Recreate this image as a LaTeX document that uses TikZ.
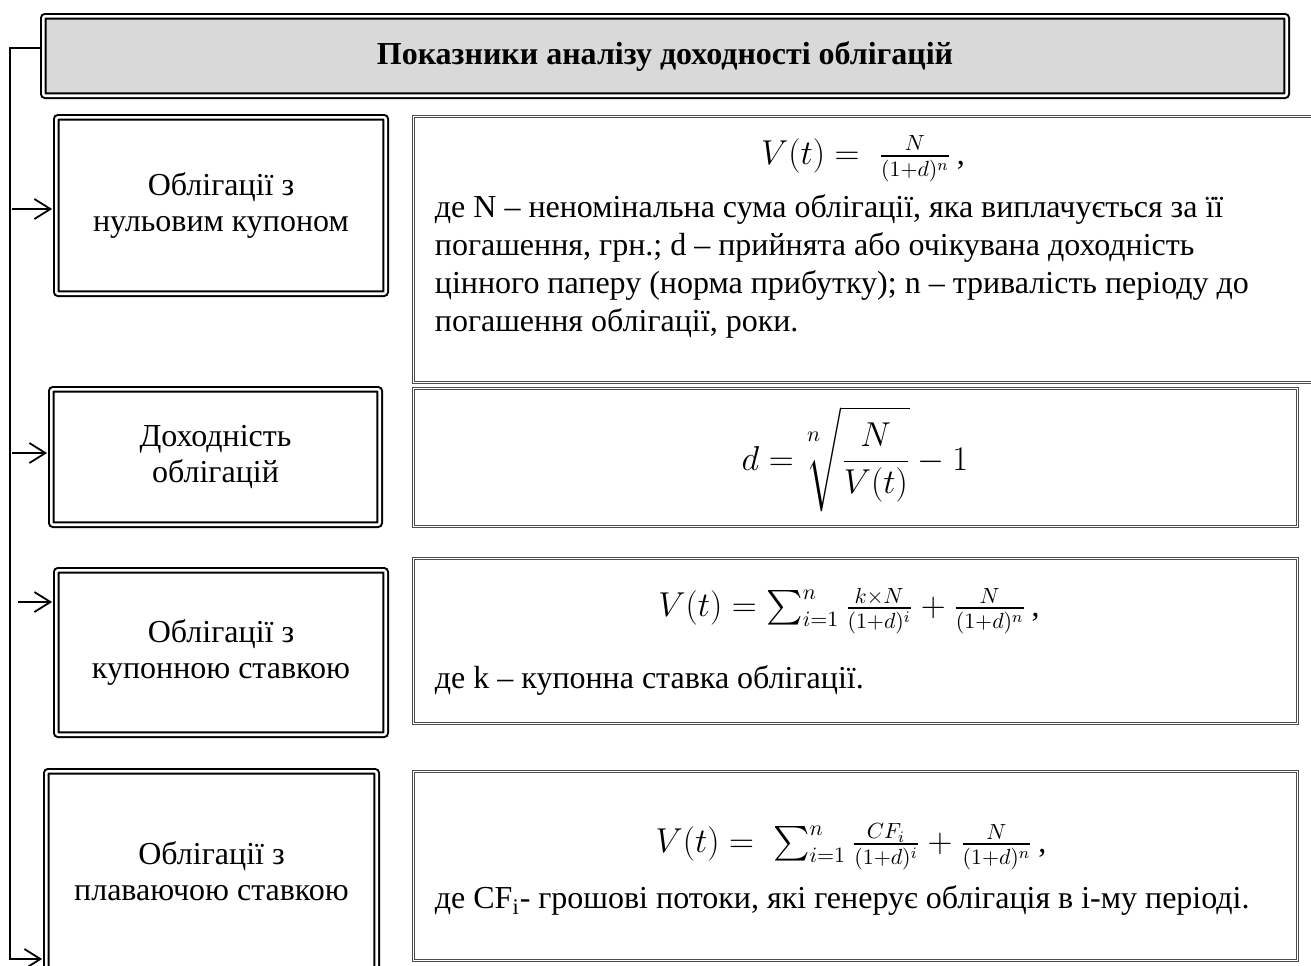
\documentclass[tikz,border=0pt]{standalone}
\usepackage{amsmath}
\usepackage{fontspec}
\setmainfont{Liberation Serif}
\usetikzlibrary{arrows.meta}

\tikzset{
  namebox/.style={shape=rectangle,draw=black,line width=1pt,double=white,double distance=1.3pt,rounded corners=1pt,align=center,font=\fontsize{16}{18}\selectfont},
  formbox/.style={shape=rectangle,draw=black!70,line width=0.5pt,double=white,double distance=0.6pt},
  formula/.style={inner sep=0pt,font=\fontsize{16}{19}\selectfont},
  note/.style={anchor=north west,align=left,inner sep=0pt,font=\fontsize{16}{19}\selectfont}
}

\begin{document}
\begin{tikzpicture}[x=0.5pt,y=-0.5pt,->,>={Straight Barb[length=8pt,width=10pt]},shorten >=1.6pt,line width=0.9pt]
            \useasboundingbox(0, 0) rectangle (1311, 965);
            \node[namebox,fill=black!15,minimum width=621.7pt,minimum height=39.7pt,font=\bfseries\fontsize{16}{18}\selectfont](Title)at(665, 56){Показники аналізу доходності облігацій};
            \node[namebox,minimum width=164.7pt,minimum height=88.2pt](0)at(221, 205.5){Облігації з\\нульовим купоном};
            \node[namebox,minimum width=164.2pt,minimum height=67.7pt](1)at(215.5, 457){Доходність\\облігацій};
            \node[namebox,minimum width=164.7pt,minimum height=82.2pt](2)at(221, 652.5){Облігації з\\купонною ставкою};
            \node[namebox,minimum width=165.2pt,minimum height=99.7pt](3)at(211.5, 871){Облігації з\\плаваючою ставкою};
            \node[formbox,minimum width=452.5pt,minimum height=133pt](V0)at(866, 249.5){};
            \node[formbox,minimum width=442pt,minimum height=69pt](V1)at(855.5, 457.5){};
            \node[formbox,minimum width=442pt,minimum height=82.5pt](V2)at(855.5, 641){};
            \node[formbox,minimum width=442pt,minimum height=94.5pt](V3)at(855.5, 866){};
            \node[formula](E0)at(863, 159){$V(t)=\;\frac{N}{(1+d)^{n}}\,$,};
            \node[formula](E1)at(855, 459){$\displaystyle d=\sqrt[\leftroot{3}\uproot{8}\scriptstyle n]{\frac{N}{V(t)}}-1$};
            \node[formula](E2)at(849, 611){$V(t)=\sum_{i=1}^{n}\frac{k\times N}{(1+d)^{i}}+\frac{N}{(1+d)^{n}}\,$,};
            \node[formula](E3)at(851, 847){$V(t)=\;\sum_{i=1}^{n}\frac{CF_{i}}{(1+d)^{i}}+\frac{N}{(1+d)^{n}}\,$,};
            \node[note](N0)at(434, 194){де N – неномінальна сума облігації, яка виплачується за її\\погашення, грн.; d – прийнята або очікувана доходність\\цінного паперу (норма прибутку); n – тривалість періоду до\\погашення облігації, роки.};
            \node[note](N2)at(434, 665){де k – купонна ставка облігації.};
            \node[note](N3)at(434, 885){де CF\textsubscript{i}- грошові потоки, які генерує облігація в і-му періоді.};
            % side line and arrows
            \coordinate(Top)at(10, 48);
            \coordinate(Bottom)at(10, 959);
            \coordinate(A0)at(12, 209);
            \coordinate(A1)at(12, 453);
            \coordinate(A2)at(18, 602);
            \draw(Title.west |- Top) -- (Top) -- (Bottom) -- (Bottom -| 3.west);
            \path(A0) edge (A0 -| 0.west)
            (A1) edge (A1 -| 1.west)
            (A2) edge (A2 -| 2.west);
        \end{tikzpicture}
\end{document}
